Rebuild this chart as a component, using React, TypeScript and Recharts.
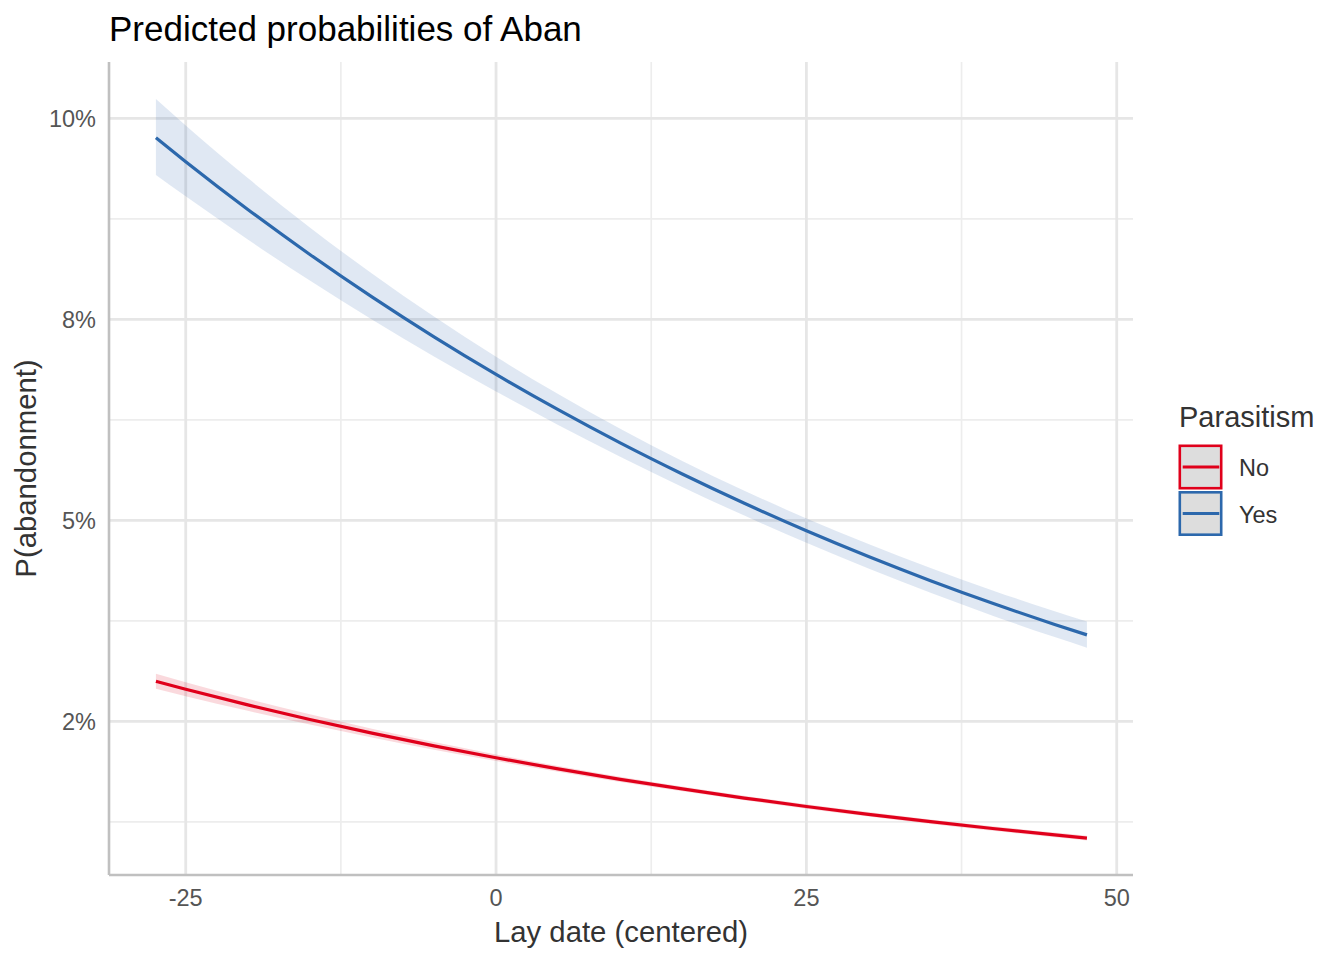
import React from 'react';
import {
  ComposedChart,
  Area,
  Line,
  XAxis,
  YAxis,
  CartesianGrid,
  Legend,
} from 'recharts';

// ---- data ----
const layDates = [-27.4, -25, -20, -15, -10, -5, 0, 5, 10, 15, 20, 25, 30, 35, 40, 45, 47.6];

const yesFit = [0.09757, 0.0946, 0.08866, 0.08307, 0.07779, 0.07282, 0.06815, 0.06376, 0.05963, 0.05576, 0.05212, 0.0487, 0.0455, 0.0425, 0.03969, 0.03706, 0.03576];
const yesLow = [0.09296, 0.09029, 0.08492, 0.07982, 0.07498, 0.07039, 0.06603, 0.06187, 0.05792, 0.05416, 0.05059, 0.04721, 0.04401, 0.04099, 0.03815, 0.03549, 0.03417];
const yesHigh = [0.10239, 0.0991, 0.09256, 0.08643, 0.08069, 0.07534, 0.07034, 0.0657, 0.06139, 0.05739, 0.05368, 0.05024, 0.04705, 0.04407, 0.04129, 0.0387, 0.03742];

const noFit = [0.02998, 0.029, 0.02706, 0.02524, 0.02354, 0.02196, 0.02048, 0.01909, 0.0178, 0.0166, 0.01547, 0.01442, 0.01344, 0.01253, 0.01168, 0.01088, 0.01049];
const noLow = [0.02906, 0.02814, 0.02632, 0.02461, 0.023, 0.02149, 0.02007, 0.01874, 0.01748, 0.0163, 0.01519, 0.01415, 0.01317, 0.01225, 0.01139, 0.0106, 0.0102];
const noHigh = [0.03093, 0.02988, 0.02781, 0.02589, 0.0241, 0.02244, 0.02089, 0.01946, 0.01813, 0.0169, 0.01576, 0.01471, 0.01372, 0.01281, 0.01197, 0.01118, 0.01079];

const xTicks = [-25, 0, 25, 50];
const xMinor = [-12.5, 12.5, 37.5];
const yTicks = [0.025, 0.05, 0.075, 0.1];
const yTickLabels = ['2%', '5%', '8%', '10%'];
const yMinor = [0.0125, 0.0375, 0.0625, 0.0875];

const legendLabels = ['No', 'Yes'];

// ---- styles ----
const RED = '#E0001B';
const BLUE = '#2C68AC';
const FONT = '"Liberation Sans", Arial, Helvetica, sans-serif';
const seriesColors = [RED, BLUE];

const rows = layDates.map((x, i) => ({
  x,
  yes: yesFit[i],
  yesBand: [yesLow[i], yesHigh[i]],
  no: noFit[i],
  noBand: [noLow[i], noHigh[i]],
}));

const formatY = (v: number) => {
  const idx = yTicks.findIndex((t) => Math.abs(t - v) < 1e-9);
  return idx >= 0 ? yTickLabels[idx] : '';
};

const renderLegend = () => (
  <svg width={184} height={160} style={{ display: 'block', fontFamily: FONT }}>
    <text x={19} y={37} fontSize={29} fill="#333">
      Parasitism
    </text>
    {legendLabels.map((lab, i) => {
      const top = 55.8 + i * 46.5;
      return (
        <g key={lab}>
          <rect x={19.8} y={top} width={41.4} height={42.4} fill="#dddddd" stroke={seriesColors[i]} strokeWidth={2.6} />
          <line x1={22.7} x2={59.3} y1={top + 21.2} y2={top + 21.2} stroke={seriesColors[i]} strokeWidth={3.2} />
          <text x={79} y={top + 30.5} fontSize={23.5} fill="#333">
            {lab}
          </text>
        </g>
      );
    })}
  </svg>
);

export default function App() {
  return (
    <div style={{ position: 'absolute', left: 0, top: 0, width: 1344, height: 960, background: '#fff', fontFamily: FONT }}>
      <ComposedChart
        width={1344}
        height={960}
        data={rows}
        margin={{ top: 62, right: 211, bottom: 0, left: 0 }}
        style={{ fontFamily: FONT }}
      >
        <CartesianGrid
          horizontalValues={yMinor}
          verticalValues={xMinor}
          stroke="#ededed"
          strokeWidth={1.7}
          fill="none"
        />
        <CartesianGrid
          horizontalValues={yTicks}
          verticalValues={xTicks}
          stroke="#e6e6e6"
          strokeWidth={2.8}
          fill="none"
        />
        <XAxis
          type="number"
          dataKey="x"
          domain={[-31.18, 51.31]}
          ticks={xTicks}
          allowDataOverflow
          tickLine={false}
          tickSize={0}
          tickMargin={14}
          height={85}
          axisLine={{ stroke: '#c0c0c0', strokeWidth: 2.6 }}
          tick={{ fontSize: 23.5, fill: '#555', fontFamily: FONT }}
        />
        <YAxis
          type="number"
          domain={[0.0059, 0.107]}
          ticks={yTicks}
          allowDataOverflow
          tickFormatter={formatY}
          tickLine={false}
          tickSize={0}
          tickMargin={13}
          width={109}
          axisLine={{ stroke: '#c0c0c0', strokeWidth: 2.6 }}
          tick={{ fontSize: 23.5, fill: '#555', fontFamily: FONT }}
        />
        <Area
          dataKey="noBand"
          type="monotone"
          stroke="none"
          fill={RED}
          fillOpacity={0.15}
          isAnimationActive={false}
          legendType="none"
        />
        <Area
          dataKey="yesBand"
          type="monotone"
          stroke="none"
          fill={BLUE}
          fillOpacity={0.15}
          isAnimationActive={false}
          legendType="none"
        />
        <Line dataKey="no" type="monotone" stroke={RED} strokeWidth={3.2} dot={false} activeDot={false} isAnimationActive={false} />
        <Line dataKey="yes" type="monotone" stroke={BLUE} strokeWidth={3.2} dot={false} activeDot={false} isAnimationActive={false} />
        <Legend
          layout="vertical"
          align="center"
          verticalAlign="middle"
          width={184}
          height={160}
          content={renderLegend}
          wrapperStyle={{ left: 1160, top: 390, width: 184, height: 160 }}
        />
      </ComposedChart>
      <svg
        width={1344}
        height={960}
        style={{ position: 'absolute', left: 0, top: 0, pointerEvents: 'none', fontFamily: FONT }}
      >
        <text x={109} y={40.5} fontSize={35} fill="#000">
          Predicted probabilities of Aban
        </text>
        <text x={621} y={942} fontSize={29.3} fill="#333" textAnchor="middle">
          Lay date (centered)
        </text>
        <text x={36} y={468.5} fontSize={29.3} fill="#333" textAnchor="middle" transform="rotate(-90 36 468.5)">
          P(abandonment)
        </text>
      </svg>
    </div>
  );
}
